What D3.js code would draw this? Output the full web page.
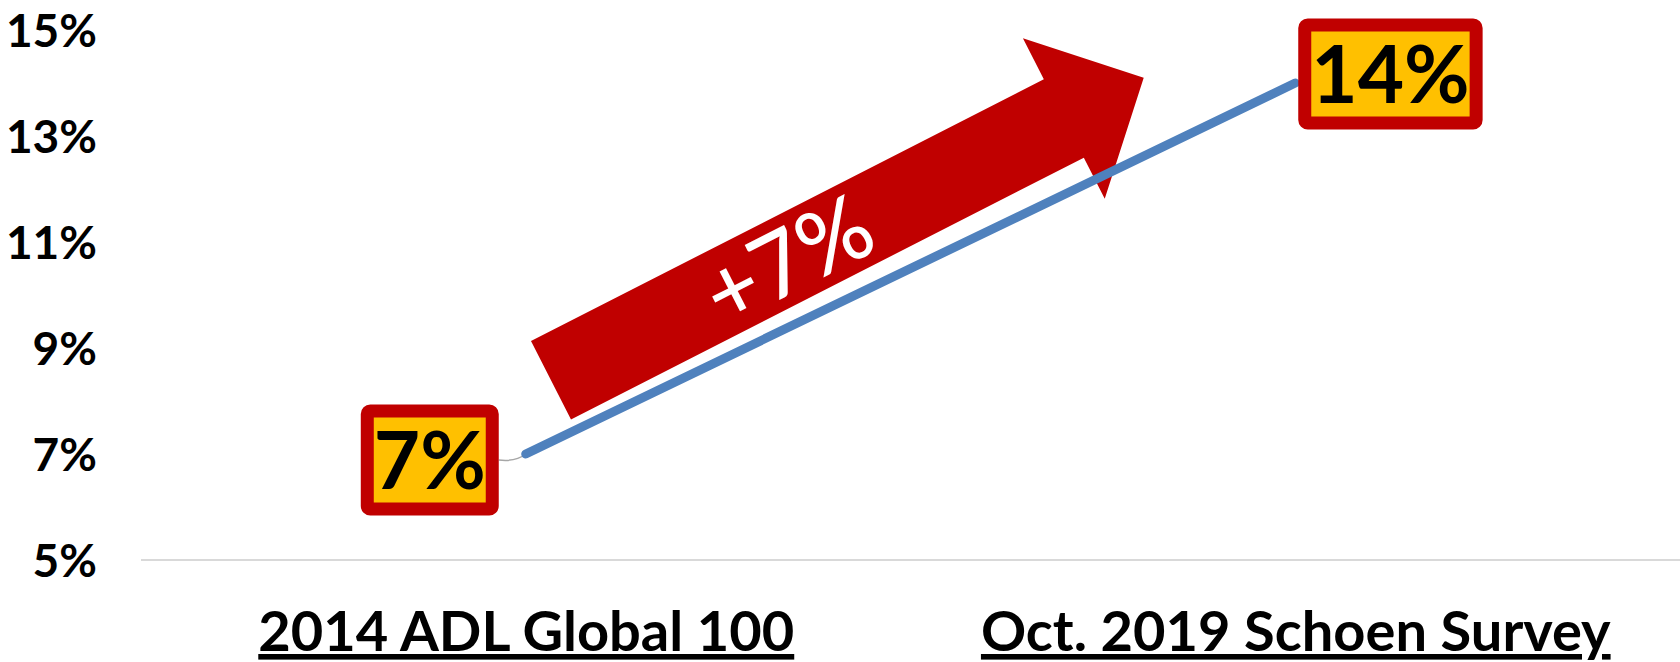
<!DOCTYPE html>
<html>
<head>
<meta charset="utf-8">
<script src="https://cdn.jsdelivr.net/npm/d3@7"></script>
<style>
  body { margin: 0; background: #fff; }
  svg text { font-family: Lato, "Open Sans", sans-serif; }
</style>
</head>
<body>
<div id="chart"></div>
<script>
var categories = ["2014 ADL Global 100", "Oct. 2019 Schoen Survey"];
var values = [7, 14];
var yTicks = [5, 7, 9, 11, 13, 15];
var changeLabel = "+7%";

var width = 1680, height = 662;
var plotLeft = 141, plotRight = 1680, plotTop = 30, plotBottom = 560;

var svg = d3.select("#chart").append("svg")
    .attr("width", width)
    .attr("height", height);

var x = d3.scalePoint()
    .domain(categories)
    .range([plotLeft, plotRight])
    .padding(0.5);
var y = d3.scaleLinear()
    .domain([5, 15])
    .range([plotBottom, plotTop]);

var pct = function(d) { return d + "%"; };

// baseline
svg.append("line")
    .attr("x1", plotLeft).attr("x2", plotRight)
    .attr("y1", y(5)).attr("y2", y(5))
    .attr("stroke", "#d9d9d9")
    .attr("stroke-width", 2);

// y axis labels
var yAxis = d3.axisLeft(y).tickValues(yTicks).tickFormat(pct).tickSize(0).tickPadding(0);
var gy = svg.append("g")
    .attr("transform", "translate(97,0)")
    .call(yAxis);
gy.select(".domain").remove();
gy.selectAll("text")
    .attr("font-size", 46)
    .attr("font-weight", 700)
    .attr("fill", "#000")
    .attr("dy", "0.36em");

// x axis labels
var xAxis = d3.axisBottom(x).tickSize(0).tickPadding(0);
var gx = svg.append("g")
    .attr("transform", "translate(0,651)")
    .call(xAxis);
gx.select(".domain").remove();
gx.selectAll("text")
    .attr("font-size", 56)
    .attr("font-weight", 700)
    .attr("fill", "#000")
    .attr("dy", 0)
    .style("text-decoration", "underline");

var pts = categories.map(function(c, i) { return [x(c), y(values[i])]; });

// arrow built from the two points
var p1 = pts[0], p2 = pts[1];
var dx = p2[0] - p1[0], dy = p2[1] - p1[1];
var len = Math.sqrt(dx * dx + dy * dy);
var u = [dx / len, dy / len];
var n = [dy / len, -dx / len];
var off = 63;
function at(s, w) {
  return [p1[0] + u[0] * s + n[0] * (off + w), p1[1] + u[1] * s + n[1] * (off + w)];
}
var sStart = len * 0.064, sHead = len * 0.738, sTip = len * 0.843;
var shaftW = 44, headW = 90;
var arrowPts = [
  at(sStart, -shaftW), at(sStart, shaftW), at(sHead, shaftW), at(sHead, headW),
  at(sTip, 0), at(sHead, -headW), at(sHead, -shaftW)
];
var mid = at((sStart + sTip) / 2, 0);
var arrowG = svg.append("g")
    .attr("transform", "rotate(-1.3," + mid[0] + "," + mid[1] + ")");
arrowG.append("polygon")
    .attr("points", arrowPts.map(function(p) { return p.join(","); }).join(" "))
    .attr("fill", "#C00000");

var angle = Math.atan2(dy, dx) * 180 / Math.PI;
var tp = at(len * 0.375, 0);
arrowG.append("text")
    .attr("transform", "translate(" + tp[0] + "," + tp[1] + ") rotate(" + angle + ")")
    .attr("text-anchor", "middle")
    .attr("dy", "0.36em")
    .attr("font-size", 90)
    .attr("font-weight", 500)
    .attr("fill", "#fff")
    .text(changeLabel);

// leader line for first label
svg.append("path")
    .attr("d", "M" + (p1[0] - 27) + "," + (p1[1] + 6) + " Q" + (p1[0] - 10) + "," + (p1[1] + 8) + " " + p1[0] + "," + p1[1])
    .attr("fill", "none")
    .attr("stroke", "#a6a6a6")
    .attr("stroke-width", 1.5);

// series line
svg.append("path")
    .datum(pts)
    .attr("d", d3.line())
    .attr("fill", "none")
    .attr("stroke", "#4F81BD")
    .attr("stroke-width", 9)
    .attr("stroke-linecap", "round");

// data labels
var placement = [{ side: -1, gap: 27, dy: 6 }, { side: 1, gap: 3, dy: -9 }];
var border = 13;
categories.forEach(function(c, i) {
  var g = svg.append("g");
  var t = g.append("text")
      .attr("font-size", 80)
      .attr("font-weight", 700)
      .attr("fill", "#000")
      .attr("text-anchor", "middle")
      .attr("dy", "0.36em")
      .text(pct(values[i]));
  var tw = t.node().getBBox().width;
  var bw = tw + 2 * border, bh = 111;
  var pl = placement[i];
  var cx = pts[i][0] + pl.side * (pl.gap + bw / 2);
  var cy = pts[i][1] + pl.dy;
  g.insert("rect", "text")
      .attr("x", cx - bw / 2 + border / 2)
      .attr("y", cy - bh / 2 + border / 2)
      .attr("width", bw - border)
      .attr("height", bh - border)
      .attr("rx", 3)
      .attr("fill", "#FFC000")
      .attr("stroke", "#C00000")
      .attr("stroke-width", border);
  t.attr("x", cx).attr("y", cy);
});
</script>
</body>
</html>
